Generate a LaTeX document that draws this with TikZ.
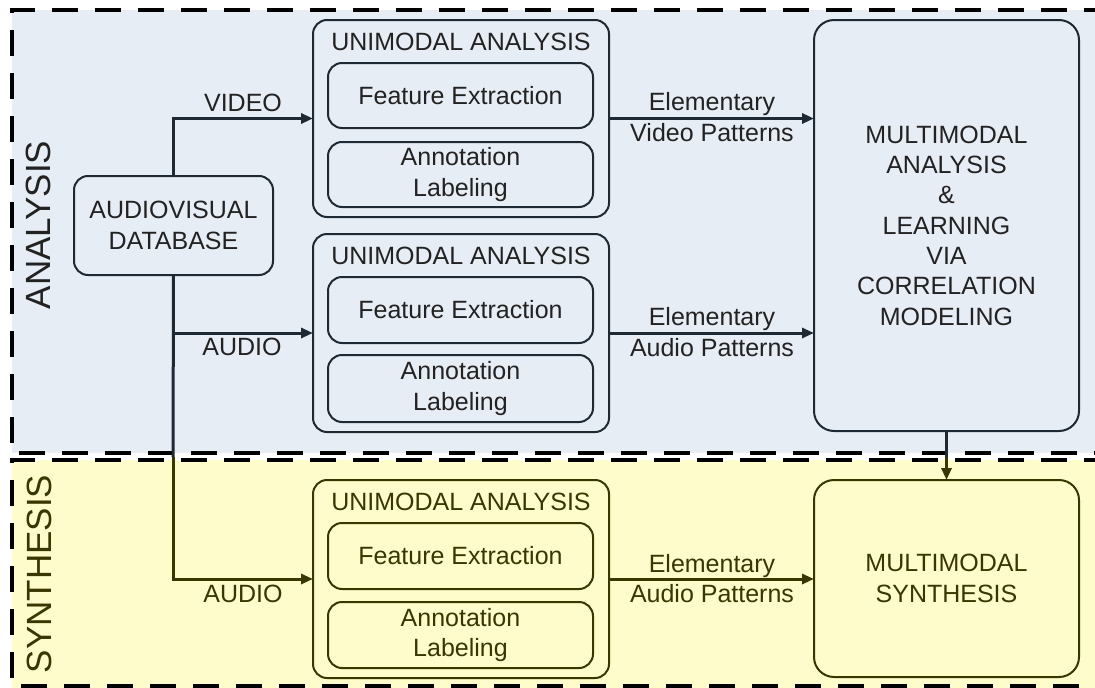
\documentclass[tikz,border=0pt]{standalone}
\usepackage{fontspec}
\setmainfont{Liberation Sans}
\usetikzlibrary{arrows.meta}
\definecolor{bluefill}{HTML}{E6EDF5}
\definecolor{yellowfill}{HTML}{FFFCCC}
\definecolor{darkln}{HTML}{1F2933}
\definecolor{oliveln}{HTML}{3A3600}
\definecolor{darktxt}{HTML}{222222}
\begin{document}
\begin{tikzpicture}[x=1pt,y=-1pt,
  font=\fontsize{25}{30.3}\selectfont,
  box/.style={draw, rounded corners=14pt, line width=2pt, inner sep=0pt, outer sep=0pt, align=center},
  bigbox/.style={box, rounded corners=20pt},
  abox/.style={draw=darkln, text=darktxt},
  sbox/.style={draw=oliveln, text=oliveln},
  conn/.style={line width=3pt, -{Triangle[length=12pt,width=10pt]}},
  seg/.style={line width=3pt},
  lbl/.style={anchor=base, inner sep=0pt},
  region/.style={line width=3.3pt, dash pattern=on 26pt off 17pt},
  side/.style={font=\fontsize{35}{40}\selectfont, rotate=90, inner sep=0pt}
]
\useasboundingbox (0,0) rectangle (1095,688);
% regions
\fill[bluefill] (12,10) rectangle (1095,453);
\fill[yellowfill] (12,460) rectangle (1095,688);
\draw[region, black] (1110,10) -- (12,10) -- (12,453) -- (1110,453);
\draw[region, black] (1110,460) -- (12,460) -- (12,686) -- (1110,686);
\node[side, text=darktxt] (tana) at (38,225) {ANALYSIS};
\node[side, text=oliveln] (tsyn) at (39,574) {SYNTHESIS};

% database
\node[box, abox, minimum width=199pt, minimum height=99pt] (db) at (173.5,225.5) {AUDIOVISUAL\\DATABASE};

% unimodal 1
\node[box, abox, minimum width=296pt, minimum height=197pt] (u1) at (461,118.5) {};
\node[lbl, text=darktxt] (u1t) at (461,50) {UNIMODAL ANALYSIS};
\node[box, abox, minimum width=265pt, minimum height=65pt] (fe1) at (460.5,95.5) {Feature Extraction};
\node[box, abox, minimum width=265pt, minimum height=65pt] (an1) at (460.5,174.5) {Annotation\\Labeling};

% unimodal 2
\node[box, abox, minimum width=296pt, minimum height=198pt] (u2) at (461,333) {};
\node[lbl, text=darktxt] (u2t) at (461,264) {UNIMODAL ANALYSIS};
\node[box, abox, minimum width=265pt, minimum height=66pt] (fe2) at (460.5,310) {Feature Extraction};
\node[box, abox, minimum width=265pt, minimum height=67pt] (an2) at (460.5,388.5) {Annotation\\Labeling};

% unimodal 3
\node[box, sbox, minimum width=296pt, minimum height=198pt] (u3) at (461,579) {};
\node[lbl, text=oliveln] (u3t) at (461,510) {UNIMODAL ANALYSIS};
\node[box, sbox, minimum width=265pt, minimum height=66pt] (fe3) at (460.5,556) {Feature Extraction};
\node[box, sbox, minimum width=265pt, minimum height=66pt] (an3) at (460.5,635) {Annotation\\Labeling};

% multimodal
\node[bigbox, abox, minimum width=265pt, minimum height=411pt] (ma) at (946.5,225.5)
  {MULTIMODAL\\ANALYSIS\\\&\\LEARNING\\VIA\\CORRELATION\\MODELING};
\node[bigbox, sbox, minimum width=265pt, minimum height=197pt] (ms) at (946.5,578.5)
  {MULTIMODAL\\SYNTHESIS};

% connectors from database
\coordinate (split) at (173,457);
\coordinate (msplit) at (946.5,457);
\draw[conn, darkln] (db.north) |- (u1.west);
\draw[conn, darkln] (db.south) |- (u2.west);
\draw[seg, darkln] (db.south) -- (split);
\draw[conn, oliveln] (split) |- (u3.west);
\node[lbl, text=darktxt] (lv) at (243,111) {VIDEO};
\node[lbl, text=darktxt] (la) at (242,355) {AUDIO};
\node[lbl, text=oliveln] (ls) at (243,602) {AUDIO};

% pattern arrows
\draw[conn, darkln] (u1.east) -- (ma.west |- u1.east);
\draw[conn, darkln] (u2.east) -- (ma.west |- u2.east);
\draw[conn, oliveln] (u3.east) -- (ms.west |- u3.east);
\node[lbl, text=darktxt] (e1a) at (712,110) {Elementary};
\node[lbl, text=darktxt] (e1b) at (712,141) {Video Patterns};
\node[lbl, text=darktxt] (e2a) at (712,325) {Elementary};
\node[lbl, text=darktxt] (e2b) at (712,356) {Audio Patterns};
\node[lbl, text=oliveln] (e3a) at (712,572) {Elementary};
\node[lbl, text=oliveln] (e3b) at (712,602) {Audio Patterns};

% multimodal analysis -> synthesis
\draw[seg, darkln] (ma.south) -- (msplit);
\draw[conn, oliveln] (msplit) -- (ms.north);
\end{tikzpicture}
\end{document}
